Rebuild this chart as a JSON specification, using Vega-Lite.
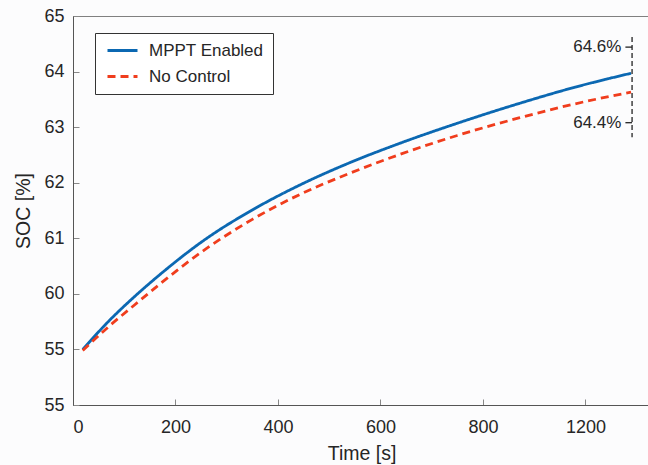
{
  "$schema": "https://vega.github.io/schema/vega-lite/v6.json",
  "width": 577,
  "height": 389,
  "autosize": {"type": "none"},
  "padding": {"left": 73, "top": 16, "right": 0, "bottom": 60},
  "background": "#fcfcfd",
  "config": {
    "font": "Liberation Sans",
    "view": {"stroke": "#808080", "strokeWidth": 1},
    "axis": {
      "grid": false,
      "domainColor": "#555555",
      "tickColor": "#888888",
      "labelColor": "#262626",
      "titleColor": "#262626",
      "labelFont": "Liberation Sans",
      "titleFont": "Liberation Sans",
      "labelFontSize": 18,
      "titleFontSize": 19.5,
      "titleFontWeight": "normal"
    }
  },
  "datasets": {
    "soc": [
      {"t": 19, "v": 59.0, "s": "MPPT Enabled"},
      {"t": 72, "v": 59.53, "s": "MPPT Enabled"},
      {"t": 120, "v": 59.95, "s": "MPPT Enabled"},
      {"t": 170, "v": 60.35, "s": "MPPT Enabled"},
      {"t": 258, "v": 60.98, "s": "MPPT Enabled"},
      {"t": 350, "v": 61.51, "s": "MPPT Enabled"},
      {"t": 443, "v": 61.96, "s": "MPPT Enabled"},
      {"t": 540, "v": 62.36, "s": "MPPT Enabled"},
      {"t": 638, "v": 62.71, "s": "MPPT Enabled"},
      {"t": 750, "v": 63.07, "s": "MPPT Enabled"},
      {"t": 872, "v": 63.43, "s": "MPPT Enabled"},
      {"t": 980, "v": 63.72, "s": "MPPT Enabled"},
      {"t": 1089, "v": 63.97, "s": "MPPT Enabled"},
      {"t": 19, "v": 58.98, "s": "No Control"},
      {"t": 72, "v": 59.43, "s": "No Control"},
      {"t": 120, "v": 59.8, "s": "No Control"},
      {"t": 170, "v": 60.18, "s": "No Control"},
      {"t": 258, "v": 60.8, "s": "No Control"},
      {"t": 350, "v": 61.34, "s": "No Control"},
      {"t": 443, "v": 61.79, "s": "No Control"},
      {"t": 540, "v": 62.17, "s": "No Control"},
      {"t": 638, "v": 62.51, "s": "No Control"},
      {"t": 750, "v": 62.85, "s": "No Control"},
      {"t": 872, "v": 63.17, "s": "No Control"},
      {"t": 980, "v": 63.42, "s": "No Control"},
      {"t": 1089, "v": 63.63, "s": "No Control"}
    ],
    "bracket": [
      {"t": 1091, "v1": 64.62, "v2": 62.82}
    ],
    "marks": [
      {"t1": 1078, "t2": 1091, "v": 64.44, "label": "64.6%"},
      {"t1": 1078, "t2": 1091, "v": 63.08, "label": "64.4%"}
    ]
  },
  "layer": [
    {
      "data": {"name": "soc"},
      "mark": {"type": "line", "interpolate": "monotone", "strokeWidth": 2.8},
      "encoding": {
        "x": {
          "field": "t", "type": "quantitative",
          "scale": {"domain": [0, 1126], "nice": false, "zero": false},
          "axis": {
            "title": "Time [s]",
            "values": [0, 200, 400, 600, 800, 1000],
            "labelExpr": "datum.value == 1000 ? '1200' : datum.label",
            "tickSize": -6,
            "labelPadding": 19,
            "titlePadding": 8
          }
        },
        "y": {
          "field": "v", "type": "quantitative",
          "scale": {"domain": [58, 65], "nice": false, "zero": false},
          "axis": {
            "title": "SOC [%]",
            "values": [58, 59, 60, 61, 62, 63, 64, 65],
            "format": "d",
            "labelExpr": "datum.value < 59.5 ? '55' : datum.label",
            "tickSize": -6,
            "labelPadding": 15,
            "titlePadding": 10
          }
        },
        "color": {
          "field": "s", "type": "nominal",
          "scale": {"domain": ["MPPT Enabled", "No Control"], "range": ["#0b68b2", "#f03d1d"]},
          "legend": {
            "title": null,
            "orient": "none",
            "legendX": 22,
            "legendY": 17,
            "padding": 9,
            "strokeColor": "#333333",
            "fillColor": "#ffffff",
            "labelFont": "Liberation Sans",
            "labelFontSize": 17,
            "labelColor": "#262626",
            "labelOffset": 28,
            "symbolType": "M-1,0H5",
            "symbolSize": 100,
            "symbolStrokeWidth": 2.8,
            "rowPadding": 8
          }
        },
        "strokeDash": {
          "field": "s", "type": "nominal",
          "scale": {"domain": ["MPPT Enabled", "No Control"], "range": [[1, 0], [8, 5]]},
          "legend": null
        }
      }
    },
    {
      "data": {"name": "bracket"},
      "mark": {"type": "rule", "color": "#222222", "strokeWidth": 1.3, "strokeDash": [5, 3]},
      "encoding": {
        "x": {"field": "t", "type": "quantitative"},
        "y": {"field": "v1", "type": "quantitative"},
        "y2": {"field": "v2"}
      }
    },
    {
      "data": {"name": "marks"},
      "mark": {"type": "rule", "color": "#222222", "strokeWidth": 1.3},
      "encoding": {
        "x": {"field": "t1", "type": "quantitative"},
        "x2": {"field": "t2"},
        "y": {"field": "v", "type": "quantitative"}
      }
    },
    {
      "data": {"name": "marks"},
      "mark": {"type": "text", "align": "right", "baseline": "middle", "dx": -4, "font": "Liberation Sans", "fontSize": 17, "color": "#262626"},
      "encoding": {
        "x": {"field": "t1", "type": "quantitative"},
        "y": {"field": "v", "type": "quantitative"},
        "text": {"field": "label"}
      }
    }
  ]
}
